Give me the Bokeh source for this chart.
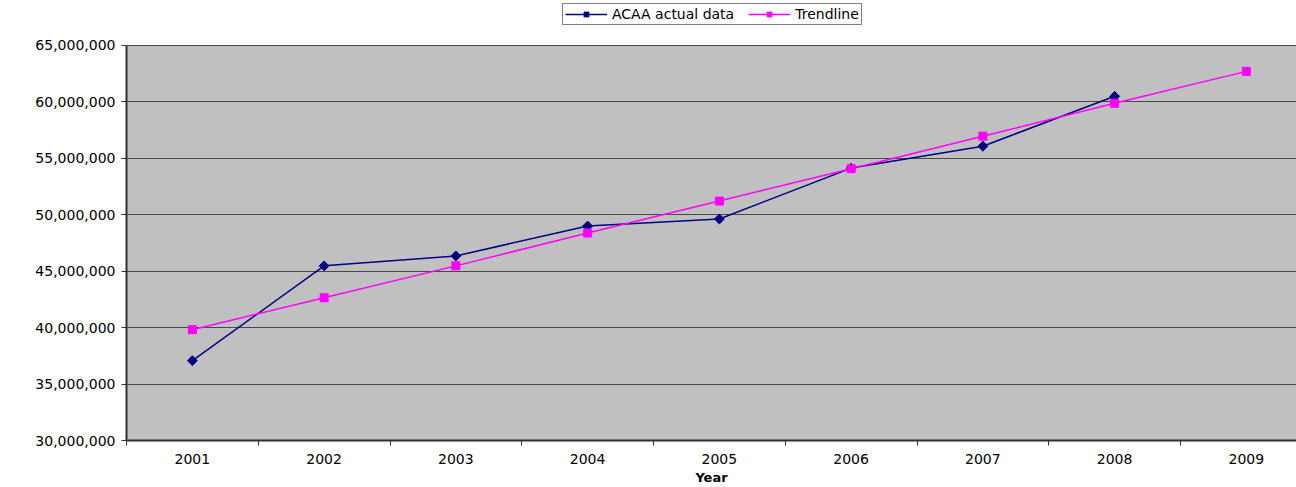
from bokeh.plotting import figure
from bokeh.models import (Range1d, FixedTicker, NumeralTickFormatter, Legend, LegendItem,
                          ColumnDataSource, BoxAnnotation)
from bokeh.embed import file_html
from bokeh.resources import INLINE
import math

years = ["2001", "2002", "2003", "2004", "2005", "2006", "2007", "2008", "2009"]
actual = [37070000, 45470000, 46350000, 49000000, 49620000, 54130000, 56070000, 60490000]
trend = [39810000, 42640000, 45470000, 48380000, 51210000, 54080000, 56960000, 59870000, 62700000]
y_ticks = [30000000, 35000000, 40000000, 45000000, 50000000, 55000000, 60000000, 65000000]

FONT = "DejaVu Sans"
FS = "14px"

Y_MIN, Y_MAX = y_ticks[0], y_ticks[-1]
# plot area occupies 396 px of a 441 px frame; upper 45 px hold the legend
Y_TOP = Y_MAX + (Y_MAX - Y_MIN) * 45 / 396

x_pos = list(range(1, len(years) + 1))
src_a = ColumnDataSource(dict(x=x_pos[:len(actual)], y=actual))
src_t = ColumnDataSource(dict(x=x_pos[:len(trend)], y=trend))

p = figure(width=1296, height=487, output_backend="svg", toolbar_location=None,
           x_range=Range1d(0.5, 0.5 + 1170 / 131.75), y_range=Range1d(Y_MIN, Y_TOP),
           min_border_left=126, min_border_right=0, min_border_top=0, min_border_bottom=10)

p.background_fill_color = "white"
p.border_fill_color = "white"
p.outline_line_color = None

plot_area = BoxAnnotation(bottom=Y_MIN, top=Y_MAX, fill_color="#C0C0C0", fill_alpha=1,
                          line_color=None, level="image")
p.add_layout(plot_area)

# y axis
p.yaxis.ticker = FixedTicker(ticks=y_ticks)
p.yaxis.bounds = (Y_MIN, Y_MAX)
p.yaxis.formatter = NumeralTickFormatter(format="0,0")
p.yaxis.major_label_text_font = FONT
p.yaxis.major_label_text_font_size = FS
p.yaxis.major_label_text_color = "black"
p.yaxis.axis_line_color = "#303030"
p.yaxis.axis_line_width = 2
p.yaxis.major_tick_line_color = "#303030"
p.yaxis.major_tick_out = 5
p.yaxis.major_tick_in = 0
p.yaxis.minor_tick_line_color = None
p.yaxis.major_label_standoff = 6

# x axis
boundaries = [i + 0.5 for i in range(0, len(years) + 1)]
p.xaxis.ticker = FixedTicker(ticks=x_pos, minor_ticks=boundaries)
p.xaxis.major_label_overrides = {x: y for x, y in zip(x_pos, years)}
p.xaxis.major_label_text_font = FONT
p.xaxis.major_label_text_font_size = FS
p.xaxis.major_label_text_color = "black"
p.xaxis.major_tick_line_color = None
p.xaxis.minor_tick_line_color = "#303030"
p.xaxis.minor_tick_out = 5
p.xaxis.minor_tick_in = 0
p.xaxis.axis_line_color = "#303030"
p.xaxis.axis_line_width = 2
p.xaxis.major_label_standoff = 7
p.xaxis.axis_label = "Year"
p.xaxis.axis_label_text_font = FONT
p.xaxis.axis_label_text_font_size = "13px"
p.xaxis.axis_label_text_font_style = "bold"
p.xaxis.axis_label_text_color = "black"
p.xaxis.axis_label_standoff = 3

p.xgrid.grid_line_color = None
p.ygrid.ticker = FixedTicker(ticks=y_ticks[1:])
p.ygrid.grid_line_color = "#484848"
p.ygrid.grid_line_width = 1

# series
la = p.line("x", "y", source=src_a, line_color="#000080", line_width=1.5)
ma = p.scatter("x", "y", source=src_a, marker="square", angle=math.pi / 4, size=7,
               fill_color="#000080", line_color="#000080")
lt = p.line("x", "y", source=src_t, line_color="#FF00FF", line_width=1.5)
mt = p.scatter("x", "y", source=src_t, marker="square", size=8,
               fill_color="#FF00FF", line_color="#FF00FF")

legend = Legend(items=[LegendItem(label="ACAA actual data", renderers=[la, ma]),
                       LegendItem(label="Trendline", renderers=[lt, mt])],
                orientation="horizontal", location=(436, 415))
legend.label_text_font = FONT
legend.label_text_font_size = FS
legend.label_text_color = "black"
legend.border_line_color = "black"
legend.border_line_width = 1
legend.background_fill_color = "white"
legend.background_fill_alpha = 1
legend.glyph_width = 42
legend.glyph_height = 12
legend.padding = 2
legend.spacing = 14
legend.margin = 0
legend.label_standoff = 5
legend.label_height = 12
p.add_layout(legend, "center")

open("out.html", "w").write(file_html(p, INLINE))
